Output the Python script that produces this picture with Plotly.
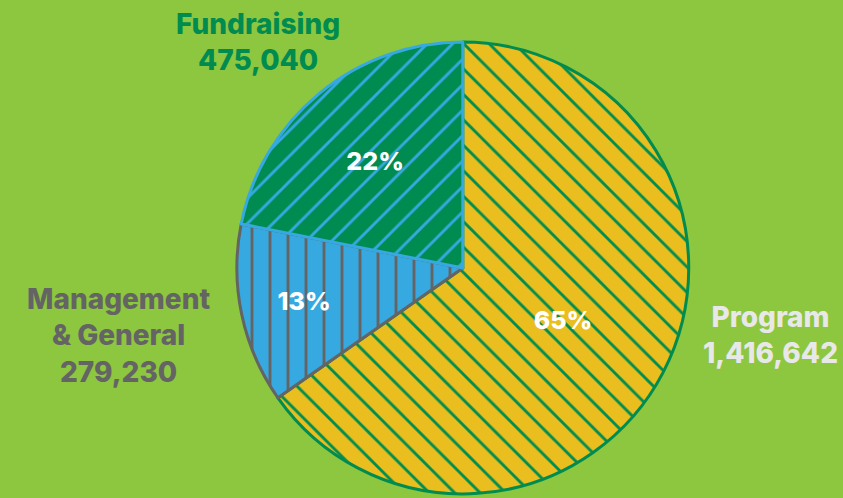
import plotly.graph_objects as go

categories = ["Program", "Management & General", "Fundraising"]
values = [1416642, 279230, 475040]
label_lines = [["Program", "1,416,642"], ["Management", "& General", "279,230"], ["Fundraising", "475,040"]]

BG = "#8DC63F"
fill_bg = ["#008C50", "#646464", "#36A9E1"]
stroke = ["#E9BE1E", "#36A9E1", "#008C50"]
shapes_ = ["\\", "|", "/"]

fig = go.Figure(go.Pie(
    labels=categories,
    values=values,
    sort=False,
    direction="clockwise",
    rotation=0,
    domain=dict(x=[0.281, 0.817], y=[0.008, 0.916]),
    marker=dict(
        colors=fill_bg,
        line=dict(color=["#008C50", "#646464", "#36A9E1"], width=3),
        pattern=dict(shape=shapes_, fgcolor=stroke, bgcolor=fill_bg,
                     fillmode="replace", size=18, solidity=0.84),
    ),
    texttemplate="%{percent:.0%}",
    textposition="inside",
    insidetextorientation="horizontal",
    textfont=dict(family="Inter", size=25, color="white", weight=800),
    showlegend=False,
    hoverinfo="label+value+percent",
))

ann_pos = [(770, 335, "#E8E8EA"), (118, 335, "#646464"), (258, 42, "#008C50")]
for lines, (px, py, col) in zip(label_lines, ann_pos):
    fig.add_annotation(
        x=px / 843, y=1 - py / 498, xref="paper", yref="paper",
        xanchor="center", yanchor="middle", showarrow=False,
        text="<br>".join(lines), align="center",
        font=dict(family="Inter", size=28, color=col, weight=800),
    )

fig.update_layout(
    width=843, height=498,
    margin=dict(l=0, r=0, t=0, b=0),
    paper_bgcolor=BG, plot_bgcolor=BG,
)

fig.write_html("out.html", config={"displayModeBar": False},
               post_script="document.body.style.margin='0';document.body.style.background='%s';" % BG)
